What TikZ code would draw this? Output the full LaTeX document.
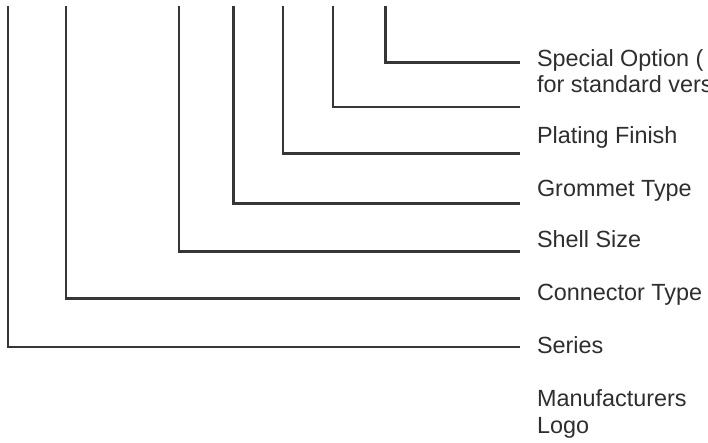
\documentclass[tikz,border=0pt]{standalone}
\usepackage{fontspec}
\setmainfont{Liberation Sans}
\definecolor{linegrey}{HTML}{363636}
\definecolor{textgrey}{HTML}{2E2E2E}
\begin{document}
\begin{tikzpicture}[x=1pt,y=-1pt,
  lead/.style={draw=linegrey,line width=2.3pt,line cap=butt,line join=miter},
  lbl/.style={anchor=base west,inner sep=0pt,outer sep=0pt,text=textgrey,
    font=\fontsize{23.4}{26}\selectfont}]
\useasboundingbox (0,0) rectangle (708,442);
\clip (0,0) rectangle (708,442);
% top ends of the leader lines
\coordinate (t1) at (8.3,6);
\coordinate (t2) at (65.7,6);
\coordinate (t3) at (179,6);
\coordinate (t4) at (233.5,6);
\coordinate (t5) at (283,6);
\coordinate (t6) at (333,6);
\coordinate (t7) at (385.5,6);
% right ends of the leader lines
\coordinate (e1) at (520,347);
\coordinate (e2) at (520,298.5);
\coordinate (e3) at (520,251.5);
\coordinate (e4) at (520,203.5);
\coordinate (e5) at (520,153.5);
\coordinate (e6) at (520,107);
\coordinate (e7) at (520,62.5);
% labels
\node[lbl] (special) at (537,66.7) {Special Option (};
\node[lbl] (special2) at (537,92) {for standard vers};
\node[lbl] (plating) at (537,143) {Plating Finish};
\node[lbl] (grommet) at (537,196) {Grommet Type};
\node[lbl] (shell) at (537,247.5) {Shell Size};
\node[lbl] (conn) at (537,300.7) {Connector Type};
\node[lbl] (series) at (537,353) {Series};
\node[lbl] (manu) at (537,406) {Manufacturers};
\node[lbl] (logo) at (537,433) {Logo};
% leaders
\draw[lead] (t1) |- (e1);
\draw[lead] (t2) |- (e2);
\draw[lead] (t3) |- (e3);
\draw[lead] (t4) |- (e4);
\draw[lead] (t5) |- (e5);
\draw[lead] (t6) |- (e6);
\draw[lead] (t7) |- (e7);
\end{tikzpicture}
\end{document}
